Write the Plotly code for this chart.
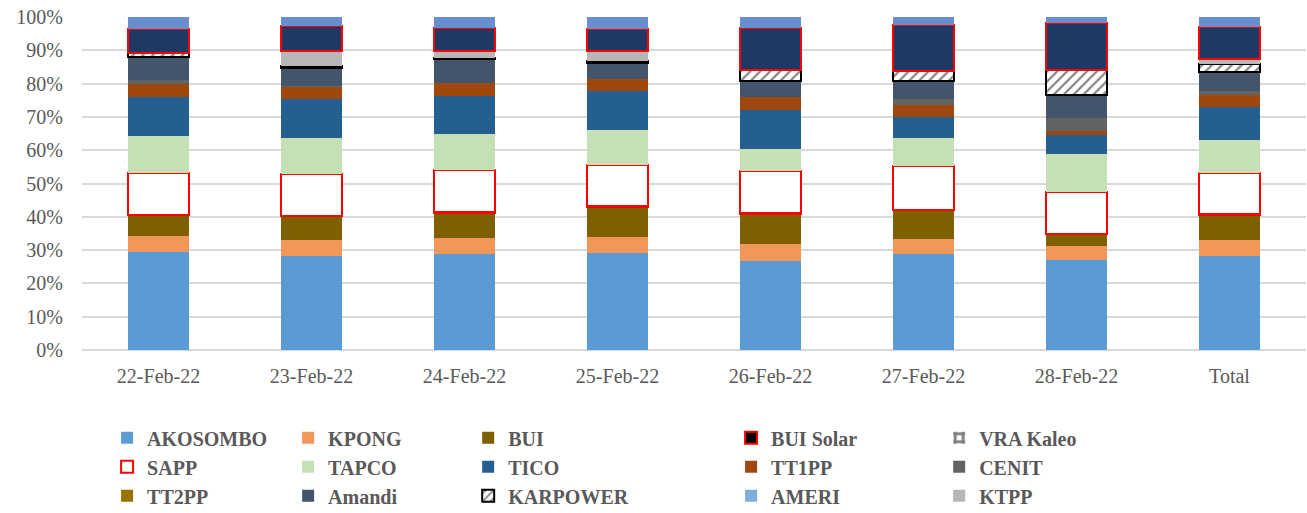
import plotly.graph_objects as go

categories = ["22-Feb-22", "23-Feb-22", "24-Feb-22", "25-Feb-22", "26-Feb-22", "27-Feb-22", "28-Feb-22", "Total"]

AKOSOMBO  = [29.3, 28.1, 28.7, 29.1, 26.8, 28.7, 27.1, 28.3]
KPONG     = [4.9, 4.9, 4.9, 4.7, 5.0, 4.6, 4.1, 4.7]
BUI       = [6.3, 7.2, 7.6, 9.2, 9.2, 8.7, 3.6, 7.6]
BUI_SOLAR = [0.1, 0.1, 0.1, 0.1, 0.1, 0.1, 0.1, 0.1]
VRA_KALEO = [0.05, 0.05, 0.05, 0.05, 0.05, 0.05, 0.05, 0.05]
SAPP      = [12.6, 12.4, 12.6, 12.3, 12.5, 13.2, 12.6, 12.4]
TAPCO     = [10.9, 10.9, 10.8, 10.7, 6.7, 8.3, 11.3, 10.0]
TICO      = [12.0, 11.7, 11.7, 11.5, 11.8, 6.3, 5.8, 10.0]
TT1PP     = [3.9, 3.8, 3.9, 3.8, 3.8, 3.6, 1.0, 3.6]
CENIT     = [1.0, 0.1, 0.0, 0.0, 0.0, 1.8, 4.0, 1.0]
TT2PP     = [0.0, 0.0, 0.0, 0.0, 0.0, 0.0, 0.0, 0.0]
AMANDI    = [6.9, 5.4, 7.0, 4.7, 5.0, 5.6, 7.0, 5.7]
KARPOWER  = [1.4, 0.6, 0.5, 0.5, 3.2, 2.8, 7.4, 2.5]
AMERI     = [0.0, 0.0, 0.0, 0.0, 0.0, 0.0, 0.0, 0.0]
KTPP      = [0.0, 4.6, 2.1, 3.0, 0.0, 0.0, 0.0, 1.6]
OTHER_1   = [7.1, 7.4, 6.7, 6.8, 12.5, 13.8, 14.1, 9.6]   # dark navy block (not in visible legend)
OTHER_2   = [3.6, 2.7, 3.4, 3.5, 3.4, 2.5, 1.9, 2.9]      # top blue block (not in visible legend)

# name, values, fill, border colour, border width, pattern, legend id
series = [
    ("AKOSOMBO", AKOSOMBO, "#5B9BD5", None, 0, None, "legend"),
    ("KPONG", KPONG, "#F1975A", None, 0, None, "legend2"),
    ("BUI", BUI, "#7F6000", None, 0, None, "legend3"),
    ("BUI Solar", BUI_SOLAR, "#000000", "#FF0000", 2, None, "legend4"),
    ("VRA Kaleo", VRA_KALEO, "#FFFFFF", None, 0, "+", "legend5"),
    ("SAPP", SAPP, "#FFFFFF", "#FF0000", 2, None, "legend"),
    ("TAPCO", TAPCO, "#C5E0B4", None, 0, None, "legend2"),
    ("TICO", TICO, "#255E91", None, 0, None, "legend3"),
    ("TT1PP", TT1PP, "#9E480E", None, 0, None, "legend4"),
    ("CENIT", CENIT, "#636363", None, 0, None, "legend5"),
    ("TT2PP", TT2PP, "#997300", None, 0, None, "legend"),
    ("Amandi", AMANDI, "#44546A", None, 0, None, "legend2"),
    ("KARPOWER", KARPOWER, "#FFFFFF", "#000000", 2, "/", "legend3"),
    ("AMERI", AMERI, "#7CAFDD", None, 0, None, "legend4"),
    ("KTPP", KTPP, "#B7B7B7", None, 0, None, "legend5"),
    ("Other 1", OTHER_1, "#203864", "#FF0000", 2, None, None),
    ("Other 2", OTHER_2, "#698ED0", None, 0, None, None),
]

fig = go.Figure()
for name, vals, color, lcolor, lw, pat, leg in series:
    marker = dict(color=color, line=dict(color=lcolor if lcolor else color, width=lw))
    if pat == "/":
        marker["pattern"] = dict(shape=pat, fgcolor="#000000", bgcolor="#FFFFFF", size=7, solidity=0.3)
    elif pat:
        marker["pattern"] = dict(shape=pat, fgcolor="#000000", bgcolor="#FFFFFF", size=10, solidity=0.6)
    kw = dict(name=name, x=categories, y=vals, marker=marker, legendgroup=name)
    if leg:
        kw["legend"] = leg
        kw["showlegend"] = True
    else:
        kw["showlegend"] = False
    fig.add_trace(go.Bar(**kw))

leg_font = dict(family="Liberation Serif", size=20, color="#595959", weight="bold")
leg_common = dict(orientation="v", traceorder="grouped", tracegroupgap=0, font=leg_font,
                  bgcolor="rgba(0,0,0,0)", yanchor="top", xanchor="left", y=-0.205,
                  itemwidth=30, itemclick=False)
col_x = [0.0205, 0.1684, 0.3155, 0.5303, 0.7003]

fig.update_layout(
    width=1307, height=513,
    margin=dict(l=82, r=1, t=17, b=163, autoexpand=False),
    paper_bgcolor="white", plot_bgcolor="white",
    barmode="stack", barnorm="percent", bargap=0.6,
    font=dict(family="Liberation Serif", color="#595959"),
    legend=dict(x=col_x[0], **leg_common),
    legend2=dict(x=col_x[1], **leg_common),
    legend3=dict(x=col_x[2], **leg_common),
    legend4=dict(x=col_x[3], **leg_common),
    legend5=dict(x=col_x[4], **leg_common),
    xaxis=dict(tickfont=dict(size=20, color="#595959", family="Liberation Serif"),
               showgrid=False, showline=False, ticks="", ticklabelstandoff=12),
    yaxis=dict(range=[0, 100], dtick=10, ticksuffix="%",
               tickfont=dict(size=20, color="#595959", family="Liberation Serif"),
               showgrid=True, gridcolor="#D9D9D9", gridwidth=1.5,
               zeroline=True, zerolinecolor="#D9D9D9", zerolinewidth=1.5,
               ticks="", ticklabelstandoff=18, ticklabeloverflow="allow"),
)

# remove the browser's default 8px page margin so the figure sits at the window corner
fig.write_html("out.html", config={"displayModeBar": False},
               post_script="document.body.style.margin='0';")
